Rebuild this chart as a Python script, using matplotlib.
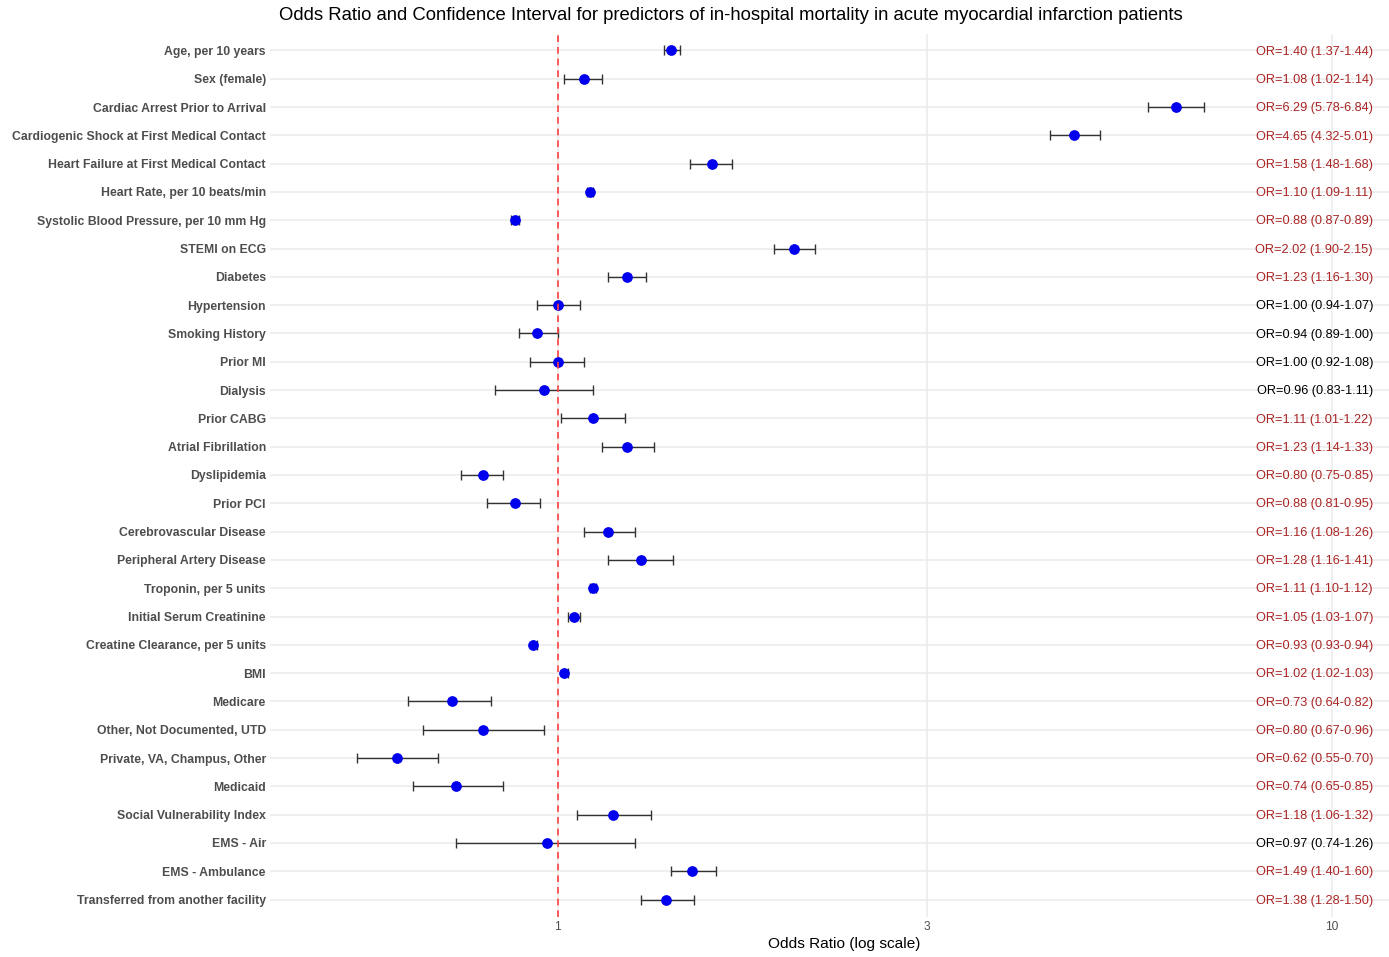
import numpy as np
import matplotlib
matplotlib.use("Agg")
import matplotlib.pyplot as plt
import matplotlib.transforms as mtransforms

plt.rcParams['font.family'] = ['Liberation Sans', 'DejaVu Sans']

predictors = [
    "Age, per 10 years", "Sex (female)", "Cardiac Arrest Prior to Arrival",
    "Cardiogenic Shock at First Medical Contact", "Heart Failure at First Medical Contact",
    "Heart Rate, per 10 beats/min", "Systolic Blood Pressure, per 10 mm Hg", "STEMI on ECG",
    "Diabetes", "Hypertension", "Smoking History", "Prior MI", "Dialysis", "Prior CABG",
    "Atrial Fibrillation", "Dyslipidemia", "Prior PCI", "Cerebrovascular Disease",
    "Peripheral Artery Disease", "Troponin, per 5 units", "Initial Serum Creatinine",
    "Creatine Clearance, per 5 units", "BMI", "Medicare", "Other, Not Documented, UTD",
    "Private, VA, Champus, Other", "Medicaid", "Social Vulnerability Index", "EMS - Air",
    "EMS - Ambulance", "Transferred from another facility",
]
odds = [1.40, 1.08, 6.29, 4.65, 1.58, 1.10, 0.88, 2.02, 1.23, 1.00, 0.94, 1.00, 0.96, 1.11,
        1.23, 0.80, 0.88, 1.16, 1.28, 1.11, 1.05, 0.93, 1.02, 0.73, 0.80, 0.62, 0.74, 1.18,
        0.97, 1.49, 1.38]
lower = [1.37, 1.02, 5.78, 4.32, 1.48, 1.09, 0.87, 1.90, 1.16, 0.94, 0.89, 0.92, 0.83, 1.01,
         1.14, 0.75, 0.81, 1.08, 1.16, 1.10, 1.03, 0.93, 1.02, 0.64, 0.67, 0.55, 0.65, 1.06,
         0.74, 1.40, 1.28]
upper = [1.44, 1.14, 6.84, 5.01, 1.68, 1.11, 0.89, 2.15, 1.30, 1.07, 1.00, 1.08, 1.11, 1.22,
         1.33, 0.85, 0.95, 1.26, 1.41, 1.12, 1.07, 0.94, 1.03, 0.82, 0.96, 0.70, 0.85, 1.32,
         1.26, 1.60, 1.50]

odds = np.array(odds)
lower = np.array(lower)
upper = np.array(upper)
n = len(predictors)
ypos = np.arange(n)

W, H = 1389, 957
fig = plt.figure(figsize=(W / 100, H / 100), dpi=100)
ax = fig.add_axes([270 / W, (H - 916.5) / H, (1389 - 270) / W, (916.5 - 33.5) / H])

ax.set_xscale('log')
ax.set_xlim(0.425, 11.85)
ax.set_ylim(n - 0.4, -0.6)

for y in ypos:
    ax.axhline(y, color='#ebebeb', lw=1.1, zorder=0)
for xv in [1, 3, 10]:
    ax.axvline(xv, color='#ebebeb', lw=1.1, zorder=0)

ax.errorbar(odds, ypos, xerr=[odds - lower, upper - odds], fmt='none',
            ecolor='#333333', elinewidth=1.0, capsize=3.5, capthick=1.0, zorder=2)
ax.scatter(odds, ypos, s=45, color='#0000ee', zorder=3)
ax.axvline(1, color='#ff4040', lw=1.2, ls=(0, (4, 3)), zorder=4)

# OR labels, right-aligned at a fixed pixel column
sig = (lower > 1) | (upper < 1)
lab_tr = mtransforms.blended_transform_factory(fig.transFigure, ax.transData)
for y, o, lo, hi, s in zip(ypos, odds, lower, upper, sig):
    ax.text(1373 / W, y + 0.04, f"OR={o:.2f} ({lo:.2f}-{hi:.2f})", transform=lab_tr,
            ha='right', va='center', fontsize=9.15, color='#aa2424' if s else 'black')

ax.set_yticks(ypos)
ax.set_yticklabels(predictors, fontsize=8.85, fontweight='bold', color='#4d4d4d')
ax.set_xticks([1, 3, 10])
ax.set_xticklabels(['1', '3', '10'], fontsize=8.6, color='#4d4d4d')
ax.xaxis.set_minor_locator(matplotlib.ticker.NullLocator())
ax.tick_params(length=0, pad=3)
for sp in ax.spines.values():
    sp.set_visible(False)

fig.text(731 / W, 1 - 16 / H, "Odds Ratio and Confidence Interval for predictors of in-hospital mortality in acute myocardial infarction patients",
         ha='center', va='center', fontsize=13.3)
fig.text(844 / W, 1 - 944 / H, "Odds Ratio (log scale)", ha='center', va='center', fontsize=11.1)

fig.savefig("out.png", dpi=100)
